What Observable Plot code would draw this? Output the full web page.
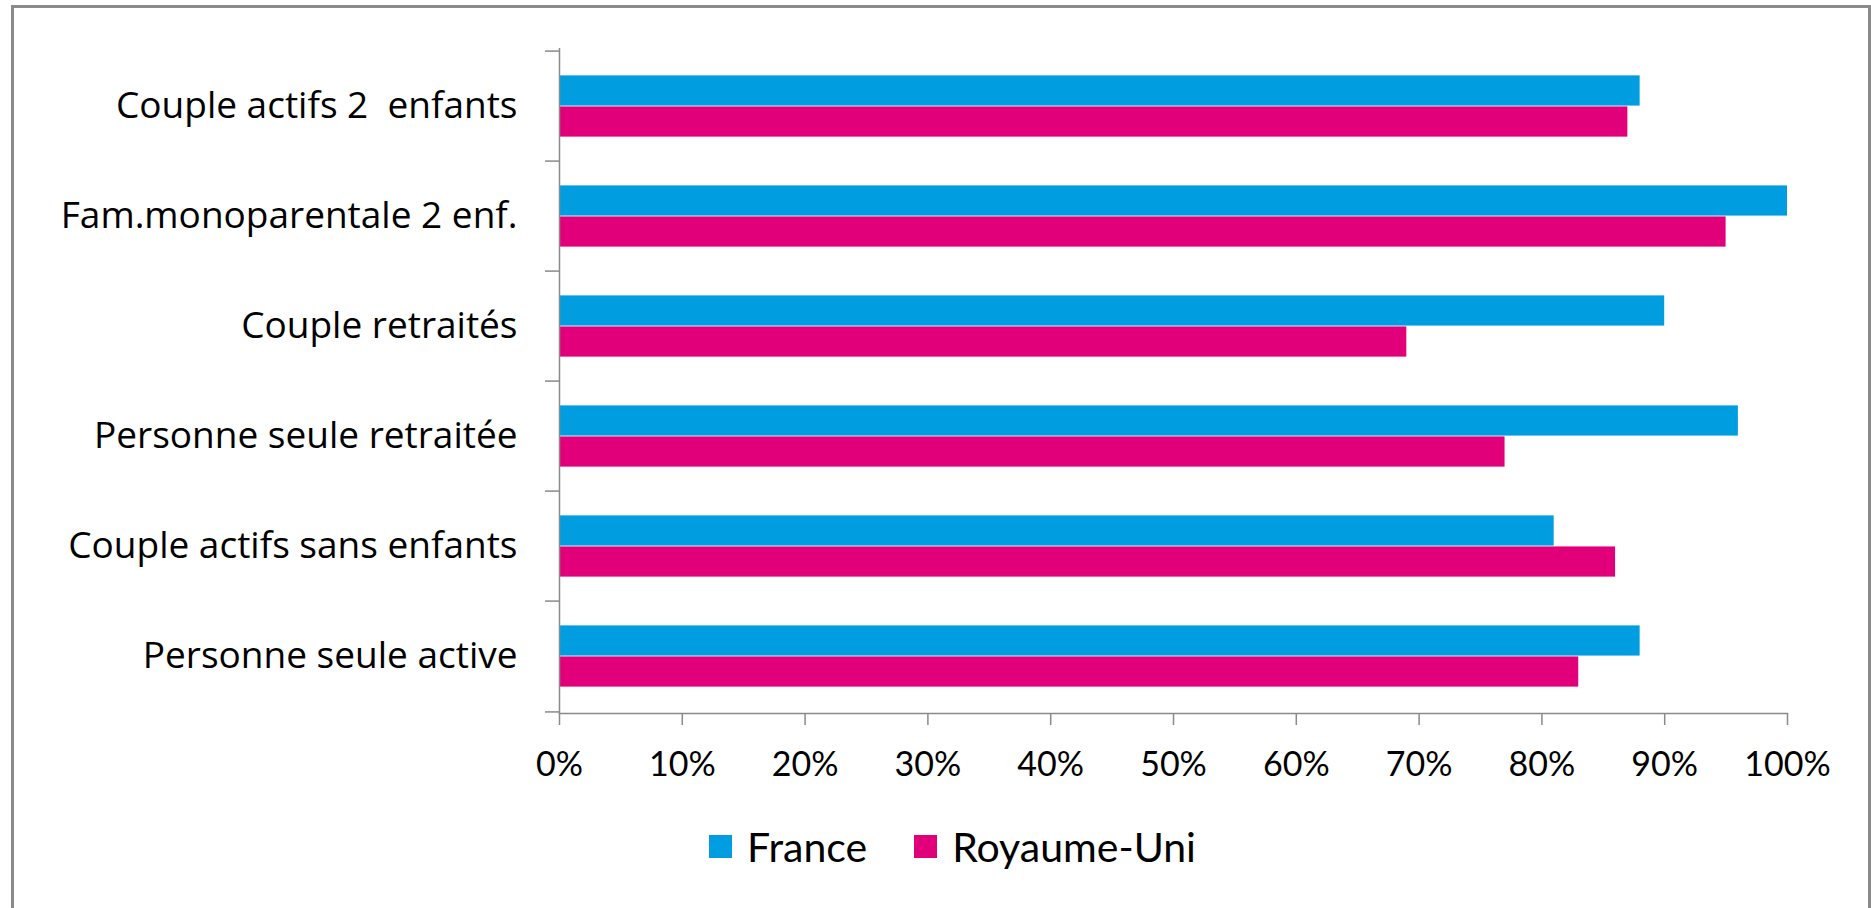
<!DOCTYPE html>
<html>
<head>
<meta charset="utf-8">
<script src="https://cdn.jsdelivr.net/npm/d3@7"></script>
<script src="https://cdn.jsdelivr.net/npm/@observablehq/plot@0.6"></script>
<style>
  html, body { margin: 0; padding: 0; background: #fff; }
  body { width: 1871px; height: 908px; position: relative; overflow: hidden; font-family: Lato, sans-serif; }
  #chart { position: absolute; left: 0; top: 0; }
  #chart svg text { white-space: pre; }
  #legend { position: absolute; left: 709px; top: 822px; }
  .lg-swatch { margin-right: 47px !important; }
  .lg-swatch > svg { margin-right: 15px !important; }
  #frame { position: absolute; left: 11px; top: 5px; width: 1860px; height: 940px; box-sizing: border-box;
           border: 3px solid #8a8a8a; border-bottom: none; pointer-events: none; z-index: 5; }
</style>
</head>
<body>
<div id="chart"></div>
<div id="legend"></div>
<div id="frame"></div>
<script>
// ---- data ----
const categories = [
  "Couple actifs 2  enfants",
  "Fam.monoparentale 2 enf.",
  "Couple retraités",
  "Personne seule retraitée",
  "Couple actifs sans enfants",
  "Personne seule active"
];
const countries = ["France", "Royaume-Uni"];
const france = [88, 100, 90, 96, 81, 88];
const royaumeUni = [87, 95, 69, 77, 86, 83];
const xTicks = [0, 10, 20, 30, 40, 50, 60, 70, 80, 90, 100];
const colors = ["#009EE0", "#E2007A"];

const rows = [];
categories.forEach((c, i) => {
  rows.push({category: c, country: countries[0], value: france[i]});
  rows.push({category: c, country: countries[1], value: royaumeUni[i]});
});

// ---- layout ----
const width = 1871, height = 800;
const marginTop = 48, marginBottom = 87, marginLeft = 559, marginRight = 84;
const step = (height - marginTop - marginBottom) / categories.length;
const axisGray = "#8a8a8a";

const chart = Plot.plot({
  width, height, marginTop, marginBottom, marginLeft, marginRight,
  style: {fontFamily: "Lato, sans-serif", fontSize: "35px", color: "#000", background: "transparent"},
  x: {domain: [0, 100]},
  y: {domain: categories, padding: 0},
  color: {domain: countries, range: colors},
  marks: [
    Plot.barX(rows.filter(d => d.country === countries[0]), {
      x: "value", y: "category", fill: "country",
      insetTop: 0.22 * step, insetBottom: 0.5 * step
    }),
    Plot.barX(rows.filter(d => d.country === countries[1]), {
      x: "value", y: "category", fill: "country",
      insetTop: 0.5 * step, insetBottom: 0.22 * step
    }),
    Plot.ruleX([0], {stroke: axisGray, strokeWidth: 1.5}),
    Plot.frame({anchor: "bottom", stroke: axisGray, strokeWidth: 1.5}),
    Plot.axisY({tickSize: 0, tickPadding: 42, fontSize: 37, fontFamily: "'Open Sans', sans-serif",
                label: null, fill: "#000"}),
    Plot.axisY({tickSize: 14, dy: -step / 2, fill: "none", stroke: axisGray, strokeWidth: 1.5, label: null}),
    Plot.axisY({ticks: [categories[categories.length - 1]], tickSize: 14, dy: step / 2, fill: "none",
                stroke: axisGray, strokeWidth: 1.5, label: null}),
    Plot.axisX({ticks: xTicks, tickSize: 12, tickPadding: 26, tickFormat: d => d + "%",
                fontSize: 34, label: null, stroke: axisGray, strokeWidth: 1.5, fill: "#000"})
  ]
});
document.getElementById("chart").appendChild(chart);

const legend = chart.legend("color", {
  swatchSize: 23,
  className: "lg",
  style: {fontFamily: "Lato, sans-serif", fontSize: "41px", color: "#000"}
});
document.getElementById("legend").appendChild(legend);
</script>
</body>
</html>
